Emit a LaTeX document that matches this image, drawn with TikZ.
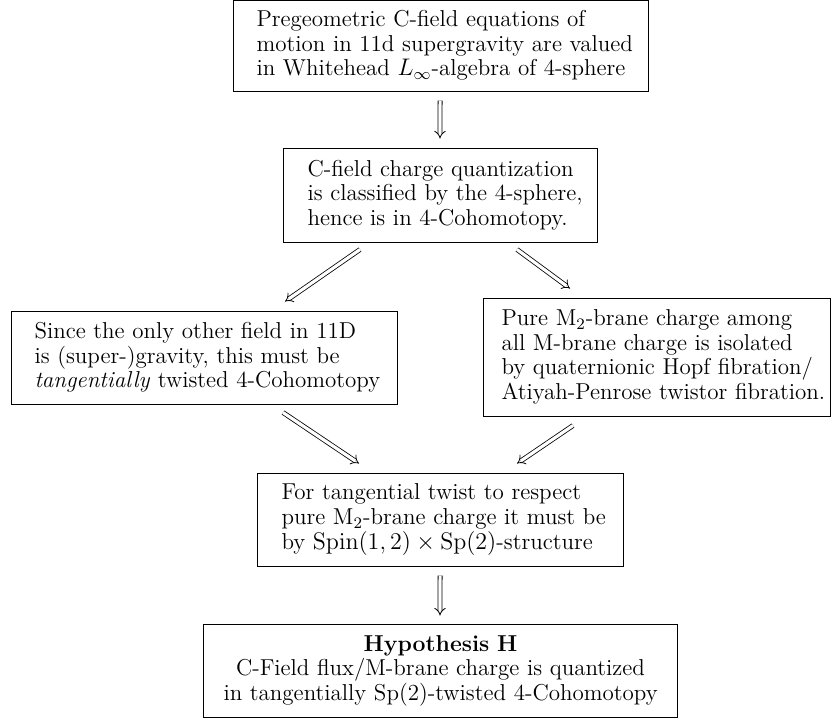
\documentclass[tikz,border=0pt]{standalone}
\usetikzlibrary{arrows.meta}
\newcommand\mline[1]{\mbox{#1}}
\begin{document}
\begin{tikzpicture}[x=0.5pt,y=-0.5pt,
  box/.style={draw, line width=0.5pt, align=left, anchor=west, inner ysep=0pt,
    font=\fontsize{11.5pt}{12.3pt}\selectfont},
  imp/.style={double, double distance=1.6pt, line width=0.4pt, -{Implies}}]
\useasboundingbox (0,0) rectangle (838,719);
\node[box, inner xsep=11.5pt, text width=184.5pt, minimum height=45.5pt] (a) at (233,45.5)
  {\mline{Pregeometric C-field equations of}\\ \mline{motion in 11d supergravity are valued}\\ \mline{in Whitehead $L_\infty$-algebra of 4-sphere}};
\node[box, inner xsep=12pt, text width=133pt, minimum height=47pt] (b) at (283,195)
  {\mline{C-field charge quantization}\\ \mline{is classified by the 4-sphere,}\\ \mline{hence is in 4-Cohomotopy.}};
\node[box, inner xsep=11.5pt, text width=170pt, minimum height=46.5pt] (c) at (11,357.5)
  {\mline{Since the only other field in 11D}\\ \mline{is (super-)gravity, this must be}\\ \mline{\textit{tangentially} twisted 4-Cohomotopy}};
\node[box, inner xsep=9pt, text width=155.5pt, minimum height=59pt] (d) at (483,357)
  {\mline{Pure M$_2$-brane charge among}\\ \mline{all M-brane charge is isolated}\\ \mline{by quaternionic Hopf fibration/}\\ \mline{Atiyah-Penrose twistor fibration.}};
\node[box, inner xsep=12pt, text width=159pt, minimum height=46.5pt] (e) at (257,519.5)
  {\mline{For tangential twist to respect}\\ \mline{pure M$_2$-brane charge it must be}\\ \mline{by $\mathrm{Spin}(1,2)\times\mathrm{Sp}(2)$-structure}};
\node[box, align=center, inner xsep=10pt, text width=217pt, minimum height=46.5pt] (f) at (203,670.5)
  {\mline{\textbf{Hypothesis H}}\\ \mline{C-Field flux/M-brane charge is quantized}\\ \mline{in tangentially Sp(2)-twisted 4-Cohomotopy}};
\draw[imp] ([xshift=103.55pt,yshift=-4.5pt]a.south west) -- ([xshift=78.5pt,yshift=4.5pt]b.north west);
\draw[imp] ([xshift=38.5pt,yshift=-3.5pt]b.south west) -- ([xshift=137pt,yshift=4.5pt]c.north west);
\draw[imp] ([xshift=117pt,yshift=-3.5pt]b.south west) -- ([xshift=43.5pt,yshift=4.5pt]d.north west);
\draw[imp] ([xshift=136pt,yshift=-4pt]c.south west) -- ([xshift=51pt,yshift=4.5pt]e.north west);
\draw[imp] ([xshift=45pt,yshift=-4.5pt]d.south west) -- ([xshift=130pt,yshift=4.5pt]e.north west);
\draw[imp] ([xshift=91.55pt,yshift=-4.5pt]e.south west) -- ([xshift=118.5pt,yshift=4pt]f.north west);
\end{tikzpicture}
\end{document}
